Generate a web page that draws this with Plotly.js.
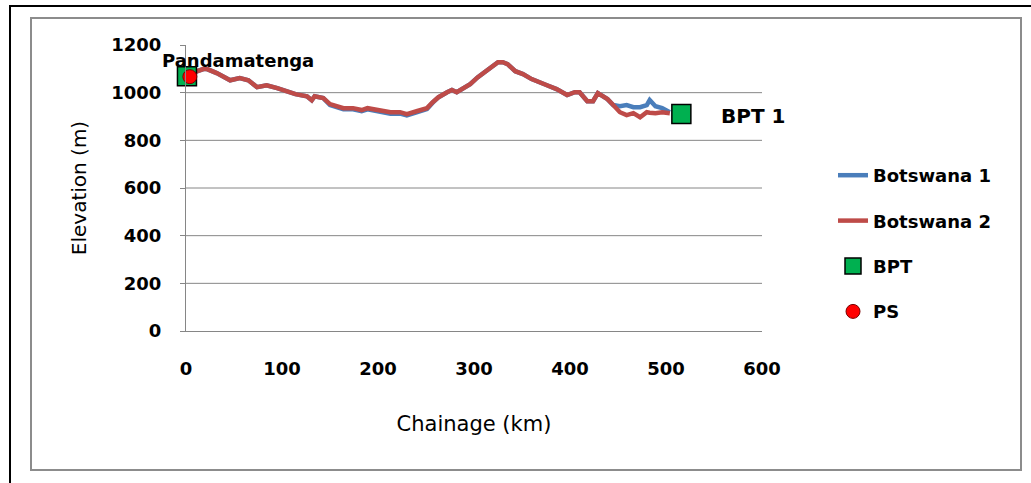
<!DOCTYPE html>
<html>
<head>
<meta charset="utf-8">
<script src="https://cdn.plot.ly/plotly-3.0.1.min.js"></script>
<style>
  html, body { margin: 0; padding: 0; background: #ffffff; }
  #wrap { position: relative; width: 1031px; height: 483px; overflow: hidden; }
  #chart { position: absolute; left: 0; top: 0; width: 1031px; height: 483px; }
  #outer { position: absolute; left: 9px; top: 5px; width: 1040px; height: 500px;
           border-left: 2px solid #000; border-top: 2px solid #000; pointer-events: none; }
  #inner { position: absolute; left: 30px; top: 17px; width: 988px; height: 450px;
           border: 2px solid #8c8c8c; pointer-events: none; }
</style>
</head>
<body>
<div id="wrap">
  <div id="chart"></div>
  <div id="outer"></div>
  <div id="inner"></div>
</div>
<script>
// Chainage (km) along the route
const chainageKm = [0, 9, 18, 22, 32, 46, 56, 65, 74, 84,
  95, 105, 114, 126, 131, 134, 143, 150, 164, 174,
  183, 189, 202, 213, 223, 230, 241, 251, 257, 263,
  272, 277, 282, 289, 296, 304, 314, 320, 325, 330,
  335, 343, 351, 360, 367, 376, 386, 397, 405, 410,
  418, 424, 429, 439, 445, 452, 459, 466, 473, 480,
  483, 489, 496, 504];

// Elevation (m), Botswana 1
const botswana1 = [1065, 1086, 1099, 1099, 1082, 1052, 1061, 1052, 1023, 1031,
  1019, 1006, 994, 985, 968, 985, 977, 948, 930, 930,
  922, 930, 921, 912, 912, 905, 918, 931, 958, 981,
  1002, 1011, 1002, 1019, 1036, 1065, 1094, 1111, 1128, 1128,
  1120, 1090, 1078, 1057, 1044, 1031, 1015, 990, 1002, 1002,
  964, 964, 998, 973, 948, 943, 948, 939, 939, 948,
  969, 943, 935, 918];

// Elevation (m), Botswana 2
const botswana2 = [1065, 1086, 1099, 1099, 1082, 1052, 1061, 1052, 1023, 1031,
  1019, 1006, 994, 985, 968, 985, 977, 952, 935, 935,
  927, 935, 927, 918, 918, 910, 923, 935, 960, 981,
  1002, 1011, 1002, 1019, 1036, 1065, 1094, 1111, 1128, 1128,
  1120, 1090, 1078, 1057, 1044, 1031, 1015, 990, 1002, 1002,
  964, 964, 998, 973, 948, 918, 906, 914, 897, 918,
  916, 914, 918, 914];

// BPT points
const bptX = [1, 516];
const bptY = [1069, 910];
const bptLabels = ['Pandamatenga', 'BPT 1'];

// PS point
const psX = [4];
const psY = [1067];

// Axis ticks
const xTicks = [0, 100, 200, 300, 400, 500, 600];
const yTicks = [0, 200, 400, 600, 800, 1000, 1200];
const yGrid = [200, 400, 600, 800, 1000];

const FONT = '"DejaVu Sans", "Liberation Sans", sans-serif';
const GRID = '#868686';

const traces = [
  { x: chainageKm, y: botswana1, name: 'Botswana 1', type: 'scatter', mode: 'lines',
    line: { color: '#4A7EBB', width: 4.5 }, legendgroup: 'a' },
  { x: chainageKm, y: botswana2, name: 'Botswana 2', type: 'scatter', mode: 'lines',
    line: { color: '#BE4B48', width: 4.5 }, legendgroup: 'b' },
  { x: bptX, y: bptY, name: 'BPT', type: 'scatter', mode: 'markers', cliponaxis: false,
    marker: { symbol: 'square', size: 19, color: '#00B050', line: { color: '#000', width: 1.5 } },
    legendgroup: 'c' },
  { x: psX, y: psY, name: 'PS', type: 'scatter', mode: 'markers', cliponaxis: false,
    marker: { symbol: 'circle', size: 14, color: '#FF0000', line: { color: '#7a0000', width: 1 } },
    legendgroup: 'd' }
];

const shapes = yGrid.map(v => ({
  type: 'line', xref: 'paper', yref: 'y', x0: 0, x1: 1, y0: v, y1: v,
  line: { color: GRID, width: 1 }, layer: 'below'
}));

const annotations = [
  { x: bptX[0], y: bptY[0], text: bptLabels[0], showarrow: false, xref: 'x', yref: 'y',
    xshift: 51, yshift: 16, font: { family: FONT, size: 18, weight: 'bold', color: '#000' } },
  { x: bptX[1], y: bptY[1], text: bptLabels[1], showarrow: false, xref: 'x', yref: 'y',
    xanchor: 'left', xshift: 38, yshift: -2, font: { family: FONT, size: 20, weight: 'bold', color: '#000' } }
];

const layout = {
  width: 1031, height: 483,
  margin: { l: 186, r: 269, t: 45, b: 152, pad: 0 },
  paper_bgcolor: '#ffffff', plot_bgcolor: '#ffffff',
  font: { family: FONT, color: '#000' },
  showlegend: true,
  legend: {
    x: 833 / 1031, xref: 'container', xanchor: 'left',
    y: 1 - 157 / 483, yref: 'container', yanchor: 'top',
    font: { family: FONT, size: 18, weight: 'bold', color: '#000' },
    tracegroupgap: 19, bgcolor: 'rgba(0,0,0,0)', borderwidth: 0
  },
  xaxis: {
    range: [0, 600], tickvals: xTicks, showgrid: false, zeroline: false,
    showline: true, linecolor: GRID, linewidth: 1, ticks: '',
    tickfont: { family: FONT, size: 18, weight: 'bold', color: '#000' },
    ticklabelstandoff: 21, automargin: false,
    title: { text: 'Chainage (km)', font: { family: FONT, size: 21, color: '#000' }, standoff: 38 }
  },
  yaxis: {
    range: [0, 1200], tickvals: yTicks, showgrid: false, zeroline: false,
    showline: true, linecolor: GRID, linewidth: 1, ticks: 'outside', ticklen: 5, tickcolor: GRID,
    tickfont: { family: FONT, size: 18, weight: 'bold', color: '#000' },
    ticklabelstandoff: 15, automargin: false,
    title: { text: 'Elevation (m)', font: { family: FONT, size: 20, color: '#000' }, standoff: 19 }
  },
  shapes: shapes,
  annotations: annotations
};

Plotly.newPlot('chart', traces, layout, { displayModeBar: false, staticPlot: true });
</script>
</body>
</html>
